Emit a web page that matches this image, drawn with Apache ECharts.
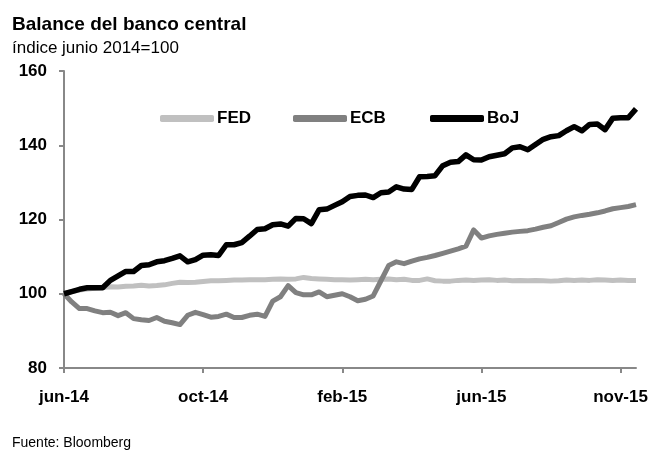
<!DOCTYPE html>
<html>
<head>
<meta charset="utf-8">
<script src="https://cdn.jsdelivr.net/npm/echarts@6/dist/echarts.min.js"></script>
<style>
  html, body { margin: 0; padding: 0; background: #fff; }
  #chart { width: 665px; height: 453px; }
</style>
</head>
<body>
<div id="chart"></div>
<script>
// etiquetas del eje x y su posicion (indice de la semana)
var tickLabels = ['jun-14', 'oct-14', 'feb-15', 'jun-15', 'nov-15'];
var tickIndex = [0, 18, 36, 54, 72];

var fed = [100, 100.6, 101, 101.3, 101.5, 101.7, 101.9, 101.8, 102, 102.1,
    102.3, 102.1, 102.2, 102.4, 102.8, 103.1, 103, 103.1, 103.3, 103.5,
    103.5, 103.6, 103.7, 103.7, 103.8, 103.8, 103.8, 103.9, 104, 103.9,
    104, 104.4, 104.1, 104, 103.9, 103.8, 103.8, 103.7, 103.8, 103.9,
    103.8, 103.9, 104, 103.8, 103.9, 103.6, 103.6, 104, 103.5, 103.4,
    103.4, 103.6, 103.7, 103.6, 103.7, 103.8, 103.6, 103.7, 103.5, 103.6,
    103.5, 103.6, 103.5, 103.4, 103.5, 103.7, 103.6, 103.7, 103.6, 103.8,
    103.7, 103.6, 103.7, 103.6, 103.6];

var ecb = [100, 97.8, 96, 96, 95.4, 94.9, 95, 94.1, 94.9, 93.3,
    93, 92.8, 93.6, 92.6, 92.2, 91.7, 94.2, 95, 94.4, 93.7,
    93.9, 94.5, 93.6, 93.6, 94.2, 94.5, 93.9, 98, 99.2, 102.2,
    100.3, 99.7, 99.7, 100.5, 99.2, 99.6, 100, 99.2, 98.1, 98.5,
    99.4, 103.5, 107.6, 108.6, 108.1, 108.8, 109.4, 109.8, 110.3, 110.9,
    111.5, 112.1, 112.8, 117.2, 115, 115.6, 116, 116.3, 116.6, 116.8,
    117, 117.4, 117.9, 118.3, 119.2, 120.1, 120.7, 121.1, 121.4, 121.8,
    122.3, 122.9, 123.2, 123.5, 124];

var boj = [100, 100.6, 101.2, 101.6, 101.6, 101.6, 103.6, 104.8, 106, 106,
    107.6, 107.8, 108.6, 108.9, 109.5, 110.2, 108.6, 109.2, 110.4, 110.5,
    110.3, 113.2, 113.2, 113.8, 115.5, 117.3, 117.5, 118.6, 118.8, 118.2,
    120.3, 120.2, 118.9, 122.6, 122.8, 123.8, 124.8, 126.2, 126.5, 126.6,
    125.9, 127.2, 127.4, 128.8, 128.2, 128.1, 131.5, 131.6, 131.8, 134.5,
    135.4, 135.6, 137.4, 136.1, 136, 136.9, 137.3, 137.7, 139.3, 139.6,
    138.8, 140.2, 141.6, 142.3, 142.6, 143.9, 145, 143.9, 145.6, 145.7,
    144.2, 147.3, 147.4, 147.4, 149.8];

var seriesNames = ['FED', 'ECB', 'BoJ'];
var seriesColors = ['#c0c0c0', '#808080', '#000'];
var legendLeft = [160, 293, 430];

var fontFam = '"Liberation Sans Narrow", "Liberation Sans", Arial, sans-serif';

var categories = [];
for (var i = 0; i < boj.length; i++) categories.push(String(i));

function isTick(idx) { return tickIndex.indexOf(idx) >= 0; }

// una leyenda por serie para fijar la posicion de cada una
var legends = seriesNames.map(function (name, k) {
    return {
        left: legendLeft[k], top: 110, padding: 0,
        itemWidth: 54, itemHeight: 7,
        icon: 'roundRect',
        textStyle: { fontFamily: fontFam, fontSize: 17, fontWeight: 'bold', color: '#000', padding: [0, 0, 0, -2] },
        data: [name]
    };
});

var myChart = echarts.init(document.getElementById('chart'));
var option = {
    animation: false,
    backgroundColor: '#fff',
    title: [
        {
            text: 'Balance del banco central',
            left: 12, top: 15, padding: 0,
            textStyle: { fontFamily: fontFam, fontSize: 19, fontWeight: 'bold', color: '#000' }
        },
        {
            text: 'índice junio 2014=100',
            left: 12, top: 40, padding: 0,
            textStyle: { fontFamily: fontFam, fontSize: 17, fontWeight: 'normal', color: '#000' }
        },
        {
            text: 'Fuente: Bloomberg',
            left: 12, top: 436, padding: 0,
            textStyle: { fontFamily: fontFam, fontSize: 14, fontWeight: 'normal', color: '#000' }
        }
    ],
    legend: legends,
    grid: { left: 64, right: 29, top: 71, bottom: 85, containLabel: false },
    xAxis: {
        type: 'category',
        data: categories,
        boundaryGap: false,
        axisLine: { lineStyle: { color: '#888', width: 2 } },
        axisTick: { show: true, interval: function (idx) { return isTick(idx); }, length: 5, lineStyle: { color: '#888', width: 2 } },
        axisLabel: {
            interval: function (idx) { return isTick(idx); },
            formatter: function (v, idx) { return tickLabels[tickIndex.indexOf(idx)] || ''; },
            margin: 21,
            fontFamily: fontFam, fontSize: 17, fontWeight: 'bold', color: '#000'
        },
        splitLine: { show: false }
    },
    yAxis: {
        type: 'value',
        min: 80, max: 160, interval: 20,
        axisLine: { show: true, lineStyle: { color: '#888', width: 2 } },
        axisTick: { show: true, length: 5, lineStyle: { color: '#888', width: 2 } },
        axisLabel: { margin: 17, fontFamily: fontFam, fontSize: 17, fontWeight: 'bold', color: '#000' },
        splitLine: { show: false }
    },
    series: [
        {
            name: seriesNames[0], type: 'line', data: fed, showSymbol: false,
            lineStyle: { color: seriesColors[0], width: 5, join: 'round' },
            itemStyle: { color: seriesColors[0] }
        },
        {
            name: seriesNames[1], type: 'line', data: ecb, showSymbol: false,
            lineStyle: { color: seriesColors[1], width: 5, join: 'round' },
            itemStyle: { color: seriesColors[1] }
        },
        {
            name: seriesNames[2], type: 'line', data: boj, showSymbol: false,
            lineStyle: { color: seriesColors[2], width: 5.5, join: 'round' },
            itemStyle: { color: seriesColors[2] }
        }
    ]
};
myChart.setOption(option);
</script>
</body>
</html>
